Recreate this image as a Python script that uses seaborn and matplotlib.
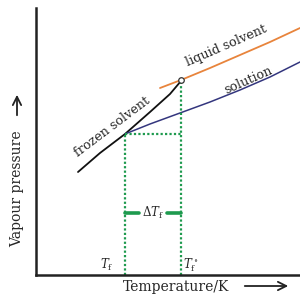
import matplotlib
matplotlib.use("Agg")
import matplotlib.pyplot as plt
import seaborn as sns

# curve data (arbitrary units)
frozen_T = [42, 64, 89, 114, 134, 145]
frozen_P = [103, 122, 141, 163, 181, 194]
liquid_T = [124, 145, 174, 204, 234, 264]
liquid_P = [187, 195, 207, 220, 233, 247]
solution_T = [89, 114, 144, 174, 204, 234, 264]
solution_P = [141, 151, 162, 173, 185, 198, 213]

Tf, Tf0 = 89, 145
P_Tf, P_Tf0 = 141, 195
dT_level = 62

sns.set_style("white")
plt.rcParams["font.family"] = ["DejaVu Serif", "DejaVu Sans"]
plt.rcParams["mathtext.fontset"] = "dejavuserif"

fig = plt.figure(figsize=(3.0, 2.95), dpi=100)
ax = fig.add_axes([36 / 300, 20 / 295, 264 / 300, 267 / 295])

green = "#1e9a4e"
sns.lineplot(x=frozen_T, y=frozen_P, color="#111111", lw=1.3, sort=False, ax=ax)
sns.lineplot(x=liquid_T, y=liquid_P, color="#e8843c", lw=1.3, sort=False, ax=ax)
sns.lineplot(x=solution_T, y=solution_P, color="#34367e", lw=1.1, sort=False, ax=ax)

dots = (0, (1, 1))
ax.plot([Tf, Tf], [0, P_Tf], color=green, lw=1.6, ls=dots)
ax.plot([Tf0, Tf0], [0, P_Tf0], color=green, lw=1.6, ls=dots)
ax.plot([Tf, Tf0], [P_Tf, P_Tf], color=green, lw=1.6, ls=dots)
ax.plot([Tf, Tf + 14], [dT_level, dT_level], color=green, lw=2.6)
ax.plot([Tf0 - 14, Tf0], [dT_level, dT_level], color=green, lw=2.6)
ax.scatter([Tf0], [P_Tf0], s=16, facecolor="white", edgecolor="#333333", lw=0.9, zorder=5)

ax.text((Tf + Tf0) / 2, dT_level, r"$\Delta T_\mathrm{f}$", ha="center", va="center", fontsize=8.5)
ax.text(Tf - 18, 10, r"$T_\mathrm{f}$", ha="center", va="center", fontsize=8.5)
ax.text(Tf0 + 10, 10, r"$T_\mathrm{f}^\circ$", ha="center", va="center", fontsize=8.5)

ax.text(190, 229, "liquid solvent", rotation=23.5, ha="center", va="center", fontsize=9.2)
ax.text(212, 195, "solution", rotation=24, ha="center", va="center", fontsize=9.2)
ax.text(76, 148, "frozen solvent", rotation=37, ha="center", va="center", fontsize=9.2)

ax.set_xlim(0, 264)
ax.set_ylim(0, 267)
ax.set_xticks([])
ax.set_yticks([])
sns.despine(ax=ax)
for s in ("left", "bottom"):
    ax.spines[s].set_color("#222222")
    ax.spines[s].set_linewidth(1.8)

# axis labels with long arrows
fig.text(123 / 300, 1 - 287 / 295, "Temperature/K", ha="left", va="center", fontsize=10)
fig.text(17 / 300, 1 - 247 / 295, "Vapour pressure", ha="center", va="bottom",
         rotation=90, fontsize=10)
arrow = dict(arrowstyle="->,head_length=0.6,head_width=0.3", color="#222222", lw=1.3)
fig.add_artist(matplotlib.patches.FancyArrowPatch(
    (242 / 300, 1 - 286 / 295), (291 / 300, 1 - 286 / 295),
    transform=fig.transFigure, mutation_scale=10, **arrow))
fig.add_artist(matplotlib.patches.FancyArrowPatch(
    (17 / 300, 1 - 118 / 295), (17 / 300, 1 - 92 / 295),
    transform=fig.transFigure, mutation_scale=10, **arrow))

fig.savefig("out.png", dpi=100)
